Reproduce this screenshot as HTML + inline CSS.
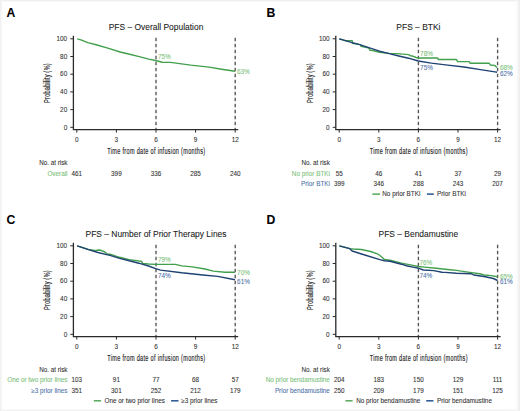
<!DOCTYPE html>
<html><head><meta charset="utf-8"><style>
html,body{margin:0;padding:0;background:#fff;}
body{width:520px;height:411px;overflow:hidden;}
svg{display:block;font-family:"Liberation Sans",sans-serif;}
</style></head><body>
<svg width="520" height="411" viewBox="0 0 520 411">
<rect x="0" y="0" width="520" height="411" fill="#fff"/>
<defs>
<linearGradient id="gt" x1="0" y1="0" x2="0" y2="1"><stop offset="0" stop-color="#e8e8e8"/><stop offset="1" stop-color="#fff" stop-opacity="0"/></linearGradient>
<linearGradient id="gb" x1="0" y1="1" x2="0" y2="0"><stop offset="0" stop-color="#ececec"/><stop offset="1" stop-color="#fff" stop-opacity="0"/></linearGradient>
<linearGradient id="gl" x1="0" y1="0" x2="1" y2="0"><stop offset="0" stop-color="#ececec"/><stop offset="1" stop-color="#fff" stop-opacity="0"/></linearGradient>
<linearGradient id="gr" x1="1" y1="0" x2="0" y2="0"><stop offset="0" stop-color="#eaeaea"/><stop offset="1" stop-color="#fff" stop-opacity="0"/></linearGradient>
</defs>
<rect x="0" y="0" width="520" height="3" fill="url(#gt)"/>
<rect x="0" y="408" width="520" height="3" fill="url(#gb)"/>
<rect x="0" y="0" width="4" height="411" fill="url(#gl)"/>
<rect x="514" y="0" width="6" height="411" fill="url(#gr)"/>
<g transform="translate(0,0)">
<text x="6.6" y="16.9" font-size="12.2" font-weight="bold" fill="#000" stroke="#000" stroke-width="0.08">A</text>
<text x="156.0" y="30.4" font-size="8.45" text-anchor="middle" fill="#222" stroke="#222" stroke-width="0.08">PFS – Overall Population</text>
<path d="M73.4 35.8 V129.65 H238.2" fill="none" stroke="#2a2a2a" stroke-width="1.3"/>
<line x1="70.3" y1="127.30" x2="73.4" y2="127.30" stroke="#2a2a2a" stroke-width="1"/>
<text x="67.2" y="129.55" font-size="6.4" text-anchor="end" fill="#333" stroke="#333" stroke-width="0.08">0</text>
<line x1="70.3" y1="109.60" x2="73.4" y2="109.60" stroke="#2a2a2a" stroke-width="1"/>
<text x="67.2" y="111.85" font-size="6.4" text-anchor="end" fill="#333" stroke="#333" stroke-width="0.08">20</text>
<line x1="70.3" y1="91.90" x2="73.4" y2="91.90" stroke="#2a2a2a" stroke-width="1"/>
<text x="67.2" y="94.15" font-size="6.4" text-anchor="end" fill="#333" stroke="#333" stroke-width="0.08">40</text>
<line x1="70.3" y1="74.20" x2="73.4" y2="74.20" stroke="#2a2a2a" stroke-width="1"/>
<text x="67.2" y="76.45" font-size="6.4" text-anchor="end" fill="#333" stroke="#333" stroke-width="0.08">60</text>
<line x1="70.3" y1="56.50" x2="73.4" y2="56.50" stroke="#2a2a2a" stroke-width="1"/>
<text x="67.2" y="58.75" font-size="6.4" text-anchor="end" fill="#333" stroke="#333" stroke-width="0.08">80</text>
<line x1="70.3" y1="38.80" x2="73.4" y2="38.80" stroke="#2a2a2a" stroke-width="1"/>
<text x="67.2" y="41.05" font-size="6.4" text-anchor="end" fill="#333" stroke="#333" stroke-width="0.08">100</text>
<line x1="76.80" y1="129.6" x2="76.80" y2="132.6" stroke="#2a2a2a" stroke-width="1"/>
<text x="76.80" y="141.8" font-size="6.4" text-anchor="middle" fill="#333" stroke="#333" stroke-width="0.08">0</text>
<line x1="116.40" y1="129.6" x2="116.40" y2="132.6" stroke="#2a2a2a" stroke-width="1"/>
<text x="116.40" y="141.8" font-size="6.4" text-anchor="middle" fill="#333" stroke="#333" stroke-width="0.08">3</text>
<line x1="156.00" y1="129.6" x2="156.00" y2="132.6" stroke="#2a2a2a" stroke-width="1"/>
<text x="156.00" y="141.8" font-size="6.4" text-anchor="middle" fill="#333" stroke="#333" stroke-width="0.08">6</text>
<line x1="195.60" y1="129.6" x2="195.60" y2="132.6" stroke="#2a2a2a" stroke-width="1"/>
<text x="195.60" y="141.8" font-size="6.4" text-anchor="middle" fill="#333" stroke="#333" stroke-width="0.08">9</text>
<line x1="235.20" y1="129.6" x2="235.20" y2="132.6" stroke="#2a2a2a" stroke-width="1"/>
<text x="235.20" y="141.8" font-size="6.4" text-anchor="middle" fill="#333" stroke="#333" stroke-width="0.08">12</text>
<line x1="156.00" y1="37.75" x2="156.00" y2="129" stroke="#555" stroke-width="1.35" stroke-dasharray="3.5 2.5"/>
<line x1="235.20" y1="37.75" x2="235.20" y2="129" stroke="#555" stroke-width="1.35" stroke-dasharray="3.5 2.5"/>
<text transform="translate(107.3,153.5) scale(0.63,1)" x="0" y="0" font-size="8.8" fill="#222" stroke="#222" stroke-width="0.15" textLength="155.24" lengthAdjust="spacing">Time from date of infusion (months)</text>
<text transform="translate(50.2,102.9) rotate(-90) scale(0.63,1)" x="0" y="0" font-size="8.8" fill="#222" stroke="#222" stroke-width="0.12" textLength="62.86" lengthAdjust="spacing">Probability (%)</text>
<path d="M77.3 38.8 L80.9 39.8 L87.8 42.6 L97.1 45.0 L108.6 48.4 L120.1 52.0 L129.6 54.2 L139.2 56.6 L148.8 59.1 L155.6 60.5 L159.4 61.5 L162.3 62.2 L170.0 62.4 L172.3 62.6 L190.8 65.1 L209.2 67.1 L221.5 69.2 L235.1 71.3" fill="none" stroke="#42a04d" stroke-width="1.4" stroke-linejoin="round"/>
<text x="158.0" y="58.6" font-size="6.4" fill="#7cc27c" stroke="#7cc27c" stroke-width="0.08">75%</text>
<text x="237.0" y="74.1" font-size="6.4" fill="#7cc27c" stroke="#7cc27c" stroke-width="0.08">63%</text>
<text x="67.5" y="164.90" font-size="6.3" text-anchor="end" fill="#333" stroke="#333" stroke-width="0.08">No. at risk</text>
<text x="67.5" y="175.7" font-size="6.35" text-anchor="end" fill="#7cc27c" stroke="#7cc27c" stroke-width="0.08">Overall</text>
<text x="76.8" y="175.7" font-size="6.35" text-anchor="middle" fill="#333" stroke="#333" stroke-width="0.08">461</text>
<text x="116.4" y="175.7" font-size="6.35" text-anchor="middle" fill="#333" stroke="#333" stroke-width="0.08">399</text>
<text x="156.0" y="175.7" font-size="6.35" text-anchor="middle" fill="#333" stroke="#333" stroke-width="0.08">336</text>
<text x="195.6" y="175.7" font-size="6.35" text-anchor="middle" fill="#333" stroke="#333" stroke-width="0.08">285</text>
<text x="235.2" y="175.7" font-size="6.35" text-anchor="middle" fill="#333" stroke="#333" stroke-width="0.08">240</text>
</g>
<g transform="translate(262.4,0)">
<text x="4.1" y="16.9" font-size="12.2" font-weight="bold" fill="#000" stroke="#000" stroke-width="0.08">B</text>
<text x="156.0" y="30.4" font-size="8.45" text-anchor="middle" fill="#222" stroke="#222" stroke-width="0.08">PFS – BTKi</text>
<path d="M73.4 35.8 V129.65 H238.2" fill="none" stroke="#2a2a2a" stroke-width="1.3"/>
<line x1="70.3" y1="127.30" x2="73.4" y2="127.30" stroke="#2a2a2a" stroke-width="1"/>
<text x="67.2" y="129.55" font-size="6.4" text-anchor="end" fill="#333" stroke="#333" stroke-width="0.08">0</text>
<line x1="70.3" y1="109.60" x2="73.4" y2="109.60" stroke="#2a2a2a" stroke-width="1"/>
<text x="67.2" y="111.85" font-size="6.4" text-anchor="end" fill="#333" stroke="#333" stroke-width="0.08">20</text>
<line x1="70.3" y1="91.90" x2="73.4" y2="91.90" stroke="#2a2a2a" stroke-width="1"/>
<text x="67.2" y="94.15" font-size="6.4" text-anchor="end" fill="#333" stroke="#333" stroke-width="0.08">40</text>
<line x1="70.3" y1="74.20" x2="73.4" y2="74.20" stroke="#2a2a2a" stroke-width="1"/>
<text x="67.2" y="76.45" font-size="6.4" text-anchor="end" fill="#333" stroke="#333" stroke-width="0.08">60</text>
<line x1="70.3" y1="56.50" x2="73.4" y2="56.50" stroke="#2a2a2a" stroke-width="1"/>
<text x="67.2" y="58.75" font-size="6.4" text-anchor="end" fill="#333" stroke="#333" stroke-width="0.08">80</text>
<line x1="70.3" y1="38.80" x2="73.4" y2="38.80" stroke="#2a2a2a" stroke-width="1"/>
<text x="67.2" y="41.05" font-size="6.4" text-anchor="end" fill="#333" stroke="#333" stroke-width="0.08">100</text>
<line x1="76.80" y1="129.6" x2="76.80" y2="132.6" stroke="#2a2a2a" stroke-width="1"/>
<text x="76.80" y="141.8" font-size="6.4" text-anchor="middle" fill="#333" stroke="#333" stroke-width="0.08">0</text>
<line x1="116.40" y1="129.6" x2="116.40" y2="132.6" stroke="#2a2a2a" stroke-width="1"/>
<text x="116.40" y="141.8" font-size="6.4" text-anchor="middle" fill="#333" stroke="#333" stroke-width="0.08">3</text>
<line x1="156.00" y1="129.6" x2="156.00" y2="132.6" stroke="#2a2a2a" stroke-width="1"/>
<text x="156.00" y="141.8" font-size="6.4" text-anchor="middle" fill="#333" stroke="#333" stroke-width="0.08">6</text>
<line x1="195.60" y1="129.6" x2="195.60" y2="132.6" stroke="#2a2a2a" stroke-width="1"/>
<text x="195.60" y="141.8" font-size="6.4" text-anchor="middle" fill="#333" stroke="#333" stroke-width="0.08">9</text>
<line x1="235.20" y1="129.6" x2="235.20" y2="132.6" stroke="#2a2a2a" stroke-width="1"/>
<text x="235.20" y="141.8" font-size="6.4" text-anchor="middle" fill="#333" stroke="#333" stroke-width="0.08">12</text>
<line x1="156.00" y1="37.75" x2="156.00" y2="129" stroke="#555" stroke-width="1.35" stroke-dasharray="3.5 2.5"/>
<line x1="235.20" y1="37.75" x2="235.20" y2="129" stroke="#555" stroke-width="1.35" stroke-dasharray="3.5 2.5"/>
<text transform="translate(107.3,153.5) scale(0.63,1)" x="0" y="0" font-size="8.8" fill="#222" stroke="#222" stroke-width="0.15" textLength="155.24" lengthAdjust="spacing">Time from date of infusion (months)</text>
<text transform="translate(50.2,102.9) rotate(-90) scale(0.63,1)" x="0" y="0" font-size="8.8" fill="#222" stroke="#222" stroke-width="0.12" textLength="62.86" lengthAdjust="spacing">Probability (%)</text>
<path d="M76.9 38.8 L81.3 40.2 L84.1 41.0 L84.6 40.6 L89.8 40.6 L90.2 43.2 L96.6 44.4 L98.1 44.6 L98.6 46.2 L105.6 47.7 L106.6 48.3 L107.6 50.4 L110.5 50.5 L117.2 52.2 L122.0 52.7 L126.8 53.4 L134.5 53.6 L146.1 54.6 L148.0 55.7 L150.9 56.3 L153.8 57.5 L156.1 58.0 L175.1 58.0 L176.1 59.5 L194.1 59.5 L195.2 61.6 L206.8 61.6 L207.9 63.3 L226.9 63.3 L227.9 65.0 L232.2 65.4 L234.7 67.5" fill="none" stroke="#42a04d" stroke-width="1.4" stroke-linejoin="round"/>
<path d="M76.9 38.8 L81.3 40.2 L89.6 42.7 L96.6 44.4 L105.6 47.3 L117.2 51.2 L126.8 53.6 L136.4 56.0 L146.1 58.2 L155.9 61.0 L168.9 63.1 L185.3 65.1 L201.6 67.0 L218.0 69.6 L232.6 71.9 L234.7 72.3" fill="none" stroke="#1f4272" stroke-width="1.4" stroke-linejoin="round"/>
<text x="157.7" y="56.0" font-size="6.4" fill="#7cc27c" stroke="#7cc27c" stroke-width="0.08">78%</text>
<text x="157.7" y="69.8" font-size="6.4" fill="#4f74aa" stroke="#4f74aa" stroke-width="0.08">75%</text>
<text x="237.5" y="70.4" font-size="6.4" fill="#7cc27c" stroke="#7cc27c" stroke-width="0.08">68%</text>
<text x="237.5" y="76.1" font-size="6.4" fill="#4f74aa" stroke="#4f74aa" stroke-width="0.08">62%</text>
<text x="67.5" y="164.90" font-size="6.3" text-anchor="end" fill="#333" stroke="#333" stroke-width="0.08">No. at risk</text>
<text x="67.5" y="175.7" font-size="6.35" text-anchor="end" fill="#7cc27c" stroke="#7cc27c" stroke-width="0.08">No prior BTKi</text>
<text x="76.8" y="175.7" font-size="6.35" text-anchor="middle" fill="#333" stroke="#333" stroke-width="0.08">55</text>
<text x="116.4" y="175.7" font-size="6.35" text-anchor="middle" fill="#333" stroke="#333" stroke-width="0.08">46</text>
<text x="156.0" y="175.7" font-size="6.35" text-anchor="middle" fill="#333" stroke="#333" stroke-width="0.08">41</text>
<text x="195.6" y="175.7" font-size="6.35" text-anchor="middle" fill="#333" stroke="#333" stroke-width="0.08">37</text>
<text x="235.2" y="175.7" font-size="6.35" text-anchor="middle" fill="#333" stroke="#333" stroke-width="0.08">29</text>
<text x="67.5" y="186.2" font-size="6.35" text-anchor="end" fill="#4f74aa" stroke="#4f74aa" stroke-width="0.08">Prior BTKi</text>
<text x="76.8" y="186.2" font-size="6.35" text-anchor="middle" fill="#333" stroke="#333" stroke-width="0.08">399</text>
<text x="116.4" y="186.2" font-size="6.35" text-anchor="middle" fill="#333" stroke="#333" stroke-width="0.08">346</text>
<text x="156.0" y="186.2" font-size="6.35" text-anchor="middle" fill="#333" stroke="#333" stroke-width="0.08">288</text>
<text x="195.6" y="186.2" font-size="6.35" text-anchor="middle" fill="#333" stroke="#333" stroke-width="0.08">243</text>
<text x="235.2" y="186.2" font-size="6.35" text-anchor="middle" fill="#333" stroke="#333" stroke-width="0.08">207</text>
<line x1="109.90000000000003" y1="194.10" x2="117.60000000000002" y2="194.10" stroke="#5fae64" stroke-width="1.6"/>
<text x="119.90000000000003" y="196.40" font-size="6.35" fill="#333" stroke="#333" stroke-width="0.08">No prior BTKi</text>
<line x1="164.5" y1="194.10" x2="171.40000000000003" y2="194.10" stroke="#345f96" stroke-width="1.6"/>
<text x="174.60000000000002" y="196.40" font-size="6.35" fill="#333" stroke="#333" stroke-width="0.08">Prior BTKi</text>
</g>
<g transform="translate(0,207.0)">
<text x="6.6" y="16.9" font-size="12.2" font-weight="bold" fill="#000" stroke="#000" stroke-width="0.08">C</text>
<text x="156.0" y="30.4" font-size="8.45" text-anchor="middle" fill="#222" stroke="#222" stroke-width="0.08">PFS – Number of Prior Therapy Lines</text>
<path d="M73.4 35.8 V129.65 H238.2" fill="none" stroke="#2a2a2a" stroke-width="1.3"/>
<line x1="70.3" y1="127.30" x2="73.4" y2="127.30" stroke="#2a2a2a" stroke-width="1"/>
<text x="67.2" y="129.55" font-size="6.4" text-anchor="end" fill="#333" stroke="#333" stroke-width="0.08">0</text>
<line x1="70.3" y1="109.60" x2="73.4" y2="109.60" stroke="#2a2a2a" stroke-width="1"/>
<text x="67.2" y="111.85" font-size="6.4" text-anchor="end" fill="#333" stroke="#333" stroke-width="0.08">20</text>
<line x1="70.3" y1="91.90" x2="73.4" y2="91.90" stroke="#2a2a2a" stroke-width="1"/>
<text x="67.2" y="94.15" font-size="6.4" text-anchor="end" fill="#333" stroke="#333" stroke-width="0.08">40</text>
<line x1="70.3" y1="74.20" x2="73.4" y2="74.20" stroke="#2a2a2a" stroke-width="1"/>
<text x="67.2" y="76.45" font-size="6.4" text-anchor="end" fill="#333" stroke="#333" stroke-width="0.08">60</text>
<line x1="70.3" y1="56.50" x2="73.4" y2="56.50" stroke="#2a2a2a" stroke-width="1"/>
<text x="67.2" y="58.75" font-size="6.4" text-anchor="end" fill="#333" stroke="#333" stroke-width="0.08">80</text>
<line x1="70.3" y1="38.80" x2="73.4" y2="38.80" stroke="#2a2a2a" stroke-width="1"/>
<text x="67.2" y="41.05" font-size="6.4" text-anchor="end" fill="#333" stroke="#333" stroke-width="0.08">100</text>
<line x1="76.80" y1="129.6" x2="76.80" y2="132.6" stroke="#2a2a2a" stroke-width="1"/>
<text x="76.80" y="141.8" font-size="6.4" text-anchor="middle" fill="#333" stroke="#333" stroke-width="0.08">0</text>
<line x1="116.40" y1="129.6" x2="116.40" y2="132.6" stroke="#2a2a2a" stroke-width="1"/>
<text x="116.40" y="141.8" font-size="6.4" text-anchor="middle" fill="#333" stroke="#333" stroke-width="0.08">3</text>
<line x1="156.00" y1="129.6" x2="156.00" y2="132.6" stroke="#2a2a2a" stroke-width="1"/>
<text x="156.00" y="141.8" font-size="6.4" text-anchor="middle" fill="#333" stroke="#333" stroke-width="0.08">6</text>
<line x1="195.60" y1="129.6" x2="195.60" y2="132.6" stroke="#2a2a2a" stroke-width="1"/>
<text x="195.60" y="141.8" font-size="6.4" text-anchor="middle" fill="#333" stroke="#333" stroke-width="0.08">9</text>
<line x1="235.20" y1="129.6" x2="235.20" y2="132.6" stroke="#2a2a2a" stroke-width="1"/>
<text x="235.20" y="141.8" font-size="6.4" text-anchor="middle" fill="#333" stroke="#333" stroke-width="0.08">12</text>
<line x1="156.00" y1="37.75" x2="156.00" y2="129" stroke="#555" stroke-width="1.35" stroke-dasharray="3.5 2.5"/>
<line x1="235.20" y1="37.75" x2="235.20" y2="129" stroke="#555" stroke-width="1.35" stroke-dasharray="3.5 2.5"/>
<text transform="translate(107.3,153.5) scale(0.63,1)" x="0" y="0" font-size="8.8" fill="#222" stroke="#222" stroke-width="0.15" textLength="155.24" lengthAdjust="spacing">Time from date of infusion (months)</text>
<text transform="translate(50.2,102.9) rotate(-90) scale(0.63,1)" x="0" y="0" font-size="8.8" fill="#222" stroke="#222" stroke-width="0.12" textLength="62.86" lengthAdjust="spacing">Probability (%)</text>
<path d="M77.2 38.8 L88.4 42.4 L96.1 43.6 L98.0 43.0 L101.0 43.3 L104.8 45.0 L107.7 47.3 L110.0 47.2 L119.6 50.3 L129.2 52.6 L138.8 54.0 L141.5 54.3 L142.7 56.5 L148.5 57.0 L155.2 57.4 L175.4 57.4 L181.7 58.9 L192.3 59.9 L205.0 62.0 L213.4 64.1 L225.0 65.2 L235.0 65.2" fill="none" stroke="#42a04d" stroke-width="1.4" stroke-linejoin="round"/>
<path d="M77.2 38.8 L88.4 42.6 L98.0 45.5 L107.7 47.9 L110.0 48.3 L119.6 51.4 L129.2 53.8 L138.8 56.2 L148.5 59.0 L155.7 61.6 L160.6 63.1 L181.7 65.8 L202.9 68.0 L217.7 69.4 L235.0 72.8" fill="none" stroke="#1f4272" stroke-width="1.4" stroke-linejoin="round"/>
<text x="158.0" y="54.8" font-size="6.4" fill="#7cc27c" stroke="#7cc27c" stroke-width="0.08">79%</text>
<text x="158.0" y="71.1" font-size="6.4" fill="#4f74aa" stroke="#4f74aa" stroke-width="0.08">74%</text>
<text x="237.1" y="67.5" font-size="6.4" fill="#7cc27c" stroke="#7cc27c" stroke-width="0.08">70%</text>
<text x="237.1" y="76.6" font-size="6.4" fill="#4f74aa" stroke="#4f74aa" stroke-width="0.08">61%</text>
<text x="67.5" y="164.60" font-size="6.3" text-anchor="end" fill="#333" stroke="#333" stroke-width="0.08">No. at risk</text>
<text x="67.5" y="175.3" font-size="6.35" text-anchor="end" fill="#7cc27c" stroke="#7cc27c" stroke-width="0.08">One or two prior lines</text>
<text x="76.8" y="175.3" font-size="6.35" text-anchor="middle" fill="#333" stroke="#333" stroke-width="0.08">103</text>
<text x="116.4" y="175.3" font-size="6.35" text-anchor="middle" fill="#333" stroke="#333" stroke-width="0.08">91</text>
<text x="156.0" y="175.3" font-size="6.35" text-anchor="middle" fill="#333" stroke="#333" stroke-width="0.08">77</text>
<text x="195.6" y="175.3" font-size="6.35" text-anchor="middle" fill="#333" stroke="#333" stroke-width="0.08">68</text>
<text x="235.2" y="175.3" font-size="6.35" text-anchor="middle" fill="#333" stroke="#333" stroke-width="0.08">57</text>
<text x="67.5" y="185.9" font-size="6.35" text-anchor="end" fill="#4f74aa" stroke="#4f74aa" stroke-width="0.08">≥3 prior lines</text>
<text x="76.8" y="185.9" font-size="6.35" text-anchor="middle" fill="#333" stroke="#333" stroke-width="0.08">351</text>
<text x="116.4" y="185.9" font-size="6.35" text-anchor="middle" fill="#333" stroke="#333" stroke-width="0.08">301</text>
<text x="156.0" y="185.9" font-size="6.35" text-anchor="middle" fill="#333" stroke="#333" stroke-width="0.08">252</text>
<text x="195.6" y="185.9" font-size="6.35" text-anchor="middle" fill="#333" stroke="#333" stroke-width="0.08">212</text>
<text x="235.2" y="185.9" font-size="6.35" text-anchor="middle" fill="#333" stroke="#333" stroke-width="0.08">179</text>
<line x1="93.8" y1="193.80" x2="101.1" y2="193.80" stroke="#5fae64" stroke-width="1.6"/>
<text x="104.6" y="196.10" font-size="6.35" fill="#333" stroke="#333" stroke-width="0.08">One or two prior lines</text>
<line x1="171.1" y1="193.80" x2="178.5" y2="193.80" stroke="#345f96" stroke-width="1.6"/>
<text x="181.2" y="196.10" font-size="6.35" fill="#333" stroke="#333" stroke-width="0.08">≥3 prior lines</text>
</g>
<g transform="translate(262.4,207.0)">
<text x="4.1" y="16.9" font-size="12.2" font-weight="bold" fill="#000" stroke="#000" stroke-width="0.08">D</text>
<text x="156.0" y="30.4" font-size="8.45" text-anchor="middle" fill="#222" stroke="#222" stroke-width="0.08">PFS – Bendamustine</text>
<path d="M73.4 35.8 V129.65 H238.2" fill="none" stroke="#2a2a2a" stroke-width="1.3"/>
<line x1="70.3" y1="127.30" x2="73.4" y2="127.30" stroke="#2a2a2a" stroke-width="1"/>
<text x="67.2" y="129.55" font-size="6.4" text-anchor="end" fill="#333" stroke="#333" stroke-width="0.08">0</text>
<line x1="70.3" y1="109.60" x2="73.4" y2="109.60" stroke="#2a2a2a" stroke-width="1"/>
<text x="67.2" y="111.85" font-size="6.4" text-anchor="end" fill="#333" stroke="#333" stroke-width="0.08">20</text>
<line x1="70.3" y1="91.90" x2="73.4" y2="91.90" stroke="#2a2a2a" stroke-width="1"/>
<text x="67.2" y="94.15" font-size="6.4" text-anchor="end" fill="#333" stroke="#333" stroke-width="0.08">40</text>
<line x1="70.3" y1="74.20" x2="73.4" y2="74.20" stroke="#2a2a2a" stroke-width="1"/>
<text x="67.2" y="76.45" font-size="6.4" text-anchor="end" fill="#333" stroke="#333" stroke-width="0.08">60</text>
<line x1="70.3" y1="56.50" x2="73.4" y2="56.50" stroke="#2a2a2a" stroke-width="1"/>
<text x="67.2" y="58.75" font-size="6.4" text-anchor="end" fill="#333" stroke="#333" stroke-width="0.08">80</text>
<line x1="70.3" y1="38.80" x2="73.4" y2="38.80" stroke="#2a2a2a" stroke-width="1"/>
<text x="67.2" y="41.05" font-size="6.4" text-anchor="end" fill="#333" stroke="#333" stroke-width="0.08">100</text>
<line x1="76.80" y1="129.6" x2="76.80" y2="132.6" stroke="#2a2a2a" stroke-width="1"/>
<text x="76.80" y="141.8" font-size="6.4" text-anchor="middle" fill="#333" stroke="#333" stroke-width="0.08">0</text>
<line x1="116.40" y1="129.6" x2="116.40" y2="132.6" stroke="#2a2a2a" stroke-width="1"/>
<text x="116.40" y="141.8" font-size="6.4" text-anchor="middle" fill="#333" stroke="#333" stroke-width="0.08">3</text>
<line x1="156.00" y1="129.6" x2="156.00" y2="132.6" stroke="#2a2a2a" stroke-width="1"/>
<text x="156.00" y="141.8" font-size="6.4" text-anchor="middle" fill="#333" stroke="#333" stroke-width="0.08">6</text>
<line x1="195.60" y1="129.6" x2="195.60" y2="132.6" stroke="#2a2a2a" stroke-width="1"/>
<text x="195.60" y="141.8" font-size="6.4" text-anchor="middle" fill="#333" stroke="#333" stroke-width="0.08">9</text>
<line x1="235.20" y1="129.6" x2="235.20" y2="132.6" stroke="#2a2a2a" stroke-width="1"/>
<text x="235.20" y="141.8" font-size="6.4" text-anchor="middle" fill="#333" stroke="#333" stroke-width="0.08">12</text>
<line x1="156.00" y1="37.75" x2="156.00" y2="129" stroke="#555" stroke-width="1.35" stroke-dasharray="3.5 2.5"/>
<line x1="235.20" y1="37.75" x2="235.20" y2="129" stroke="#555" stroke-width="1.35" stroke-dasharray="3.5 2.5"/>
<text transform="translate(107.3,153.5) scale(0.63,1)" x="0" y="0" font-size="8.8" fill="#222" stroke="#222" stroke-width="0.15" textLength="155.24" lengthAdjust="spacing">Time from date of infusion (months)</text>
<text transform="translate(50.2,102.9) rotate(-90) scale(0.63,1)" x="0" y="0" font-size="8.8" fill="#222" stroke="#222" stroke-width="0.12" textLength="62.86" lengthAdjust="spacing">Probability (%)</text>
<path d="M77.0 38.8 L87.4 41.7 L90.9 42.0 L99.0 42.5 L108.2 44.5 L115.1 46.8 L119.7 50.3 L122.0 52.4 L127.6 53.2 L139.1 56.1 L150.7 58.4 L155.9 59.5 L162.2 60.1 L173.7 61.3 L187.6 62.8 L194.1 63.4 L205.6 65.1 L217.2 66.8 L221.8 68.0 L228.7 68.6 L235.1 69.7" fill="none" stroke="#42a04d" stroke-width="1.4" stroke-linejoin="round"/>
<path d="M77.0 38.8 L87.4 41.7 L89.7 44.0 L102.4 48.0 L117.4 52.6 L122.0 53.8 L127.6 54.2 L139.1 57.2 L144.9 59.0 L150.7 60.1 L156.4 61.3 L161.0 63.0 L171.4 63.6 L179.5 65.3 L182.6 65.4 L194.1 66.3 L209.1 66.8 L211.4 68.0 L223.0 69.7 L231.0 71.5 L235.1 73.5" fill="none" stroke="#1f4272" stroke-width="1.4" stroke-linejoin="round"/>
<text x="157.1" y="58.0" font-size="6.4" fill="#7cc27c" stroke="#7cc27c" stroke-width="0.08">76%</text>
<text x="157.1" y="71.1" font-size="6.4" fill="#4f74aa" stroke="#4f74aa" stroke-width="0.08">74%</text>
<text x="237.5" y="71.7" font-size="6.4" fill="#7cc27c" stroke="#7cc27c" stroke-width="0.08">65%</text>
<text x="237.5" y="77.4" font-size="6.4" fill="#4f74aa" stroke="#4f74aa" stroke-width="0.08">61%</text>
<text x="67.5" y="164.60" font-size="6.3" text-anchor="end" fill="#333" stroke="#333" stroke-width="0.08">No. at risk</text>
<text x="67.5" y="175.3" font-size="6.35" text-anchor="end" fill="#7cc27c" stroke="#7cc27c" stroke-width="0.08">No prior bendamustine</text>
<text x="76.8" y="175.3" font-size="6.35" text-anchor="middle" fill="#333" stroke="#333" stroke-width="0.08">204</text>
<text x="116.4" y="175.3" font-size="6.35" text-anchor="middle" fill="#333" stroke="#333" stroke-width="0.08">183</text>
<text x="156.0" y="175.3" font-size="6.35" text-anchor="middle" fill="#333" stroke="#333" stroke-width="0.08">150</text>
<text x="195.6" y="175.3" font-size="6.35" text-anchor="middle" fill="#333" stroke="#333" stroke-width="0.08">129</text>
<text x="235.2" y="175.3" font-size="6.35" text-anchor="middle" fill="#333" stroke="#333" stroke-width="0.08">111</text>
<text x="67.5" y="185.9" font-size="6.35" text-anchor="end" fill="#4f74aa" stroke="#4f74aa" stroke-width="0.08">Prior bendamustine</text>
<text x="76.8" y="185.9" font-size="6.35" text-anchor="middle" fill="#333" stroke="#333" stroke-width="0.08">250</text>
<text x="116.4" y="185.9" font-size="6.35" text-anchor="middle" fill="#333" stroke="#333" stroke-width="0.08">209</text>
<text x="156.0" y="185.9" font-size="6.35" text-anchor="middle" fill="#333" stroke="#333" stroke-width="0.08">179</text>
<text x="195.6" y="185.9" font-size="6.35" text-anchor="middle" fill="#333" stroke="#333" stroke-width="0.08">151</text>
<text x="235.2" y="185.9" font-size="6.35" text-anchor="middle" fill="#333" stroke="#333" stroke-width="0.08">125</text>
<line x1="83.0" y1="193.80" x2="90.20000000000005" y2="193.80" stroke="#5fae64" stroke-width="1.6"/>
<text x="93.80000000000001" y="196.10" font-size="6.35" fill="#333" stroke="#333" stroke-width="0.08">No prior bendamustine</text>
<line x1="163.8" y1="193.80" x2="171.0" y2="193.80" stroke="#345f96" stroke-width="1.6"/>
<text x="174.5" y="196.10" font-size="6.35" fill="#333" stroke="#333" stroke-width="0.08">Prior bendamustine</text>
</g>
</svg>
</body></html>
